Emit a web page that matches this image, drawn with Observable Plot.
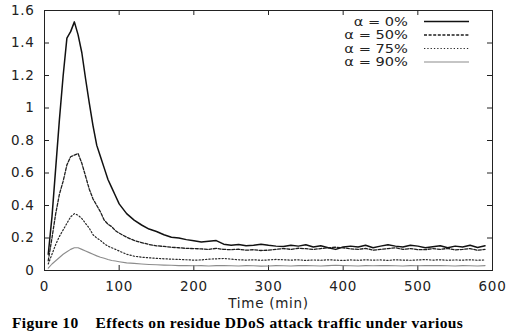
<!DOCTYPE html>
<html>
<head>
<meta charset="utf-8">
<script src="https://cdn.jsdelivr.net/npm/d3@7"></script>
<script src="https://cdn.jsdelivr.net/npm/@observablehq/plot@0.6"></script>
<style>
  html, body { margin: 0; padding: 0; background: #fff; width: 506px; height: 331px; overflow: hidden; }
  #wrap { position: relative; width: 506px; height: 331px; }
  #caption { position: absolute; left: 12px; top: 314px; font: bold 15.5px "Liberation Serif", serif; letter-spacing: 0.4px; line-height: 18px; white-space: nowrap; color: #000; }
  #chart svg text { letter-spacing: 0.7px; }
</style>
</head>
<body>
<div id="wrap">
  <div id="chart"></div>
  <div id="caption">Figure 10<span style="margin-left:17px">Effects on residue DDoS attack traffic under various</span></div>
</div>
<script>
const times = [5,10,15,20,25,30,35,40,45,50,55,60,65,70,75,80,85,90,95,100,
  110,120,130,140,150,160,170,180,190,200,210,220,230,240,250,260,270,280,290,300,
  310,320,330,340,350,360,370,380,390,400,410,420,430,440,450,460,470,480,490,500,
  510,520,530,540,550,560,570,580,590];

const alpha0 = [.10,.33,.63,.93,1.20,1.43,1.47,1.53,1.45,1.34,1.18,1.03,.89,.77,.70,.63,.56,.51,.46,.41,
  .35,.31,.28,.255,.24,.22,.205,.20,.19,.183,.175,.18,.184,.162,.155,.16,.152,.155,.162,.155,
  .15,.148,.156,.15,.158,.145,.152,.14,.13,.145,.15,.145,.155,.14,.15,.158,.15,.144,.155,.15,
  .14,.146,.152,.14,.15,.145,.155,.142,.152];

const alpha50 = [.06,.20,.35,.47,.55,.65,.70,.71,.72,.66,.58,.50,.44,.40,.36,.31,.285,.27,.245,.23,
  .205,.185,.172,.16,.152,.148,.143,.14,.136,.135,.133,.13,.136,.13,.128,.131,.125,.128,.123,.125,
  .13,.135,.13,.137,.134,.13,.135,.14,.143,.14,.133,.13,.136,.125,.13,.135,.14,.13,.135,.128,
  .128,.135,.13,.136,.127,.13,.135,.125,.13];

const alpha75 = [.04,.10,.16,.21,.25,.29,.33,.35,.34,.32,.29,.26,.22,.20,.185,.165,.15,.14,.13,.12,
  .10,.088,.082,.078,.075,.072,.07,.068,.066,.064,.065,.07,.072,.074,.07,.066,.064,.066,.063,.065,
  .068,.066,.064,.066,.062,.065,.063,.066,.064,.062,.065,.063,.066,.064,.065,.062,.066,.064,.063,.065,
  .067,.064,.066,.063,.065,.064,.066,.063,.065];

const alpha90 = [.015,.04,.06,.08,.10,.115,.13,.14,.14,.13,.12,.11,.10,.09,.082,.075,.068,.062,.058,.054,
  .047,.044,.04,.037,.035,.033,.032,.03,.031,.029,.03,.028,.03,.031,.029,.028,.03,.029,.027,.028,
  .03,.029,.028,.03,.031,.029,.028,.03,.032,.03,.029,.028,.03,.029,.031,.03,.029,.028,.03,.029,
  .03,.031,.03,.029,.028,.03,.029,.028,.03];

const seriesNames = ["α = 0%", "α = 50%", "α = 75%", "α = 90%"];
const seriesValues = [alpha0, alpha50, alpha75, alpha90];
const xTicks = [0, 100, 200, 300, 400, 500, 600];
const yTicks = [0, 0.2, 0.4, 0.6, 0.8, 1, 1.2, 1.4, 1.6];
const xLabel = "Time (min)";

const styles = [
  {stroke: "#111", strokeWidth: 1.5, dash: null},
  {stroke: "#1e1e1e", strokeWidth: 1.3, dash: "3,1.6"},
  {stroke: "#2a2a2a", strokeWidth: 1.2, dash: "1.3,2"},
  {stroke: "#8c8c8c", strokeWidth: 1.1, dash: null}
];

const W = 506, H = 312, ML = 44, MR = 14, MT = 10, MB = 42;
const frameW = W - ML - MR, frameH = H - MT - MB, TICK = 5;

const rows = [];
seriesNames.forEach((name, i) => {
  times.forEach((t, j) => rows.push({series: name, t, v: seriesValues[i][j]}));
});

const lineMarks = seriesNames.map((name, i) => Plot.line(rows.filter(d => d.series === name), {
  x: "t", y: "v", stroke: styles[i].stroke, strokeWidth: styles[i].strokeWidth,
  strokeDasharray: styles[i].dash, strokeLinejoin: "round"
}));

const fmt = d => String(d);

const plot = Plot.plot({
  width: W,
  height: H,
  marginLeft: ML,
  marginRight: MR,
  marginTop: MT,
  marginBottom: MB,
  style: {fontFamily: "DejaVu Sans", fontSize: "13.5px", color: "#222", background: "#fff"},
  x: {domain: [0, 600]},
  y: {domain: [0, 1.6]},
  marks: [
    // inward ticks on all four sides (gnuplot style)
    Plot.tickX(xTicks, {x: d => d, insetTop: frameH - TICK, stroke: "#222"}),
    Plot.tickX(xTicks, {x: d => d, insetBottom: frameH - TICK, stroke: "#222"}),
    Plot.tickY(yTicks, {y: d => d, insetRight: frameW - TICK, stroke: "#222"}),
    Plot.tickY(yTicks, {y: d => d, insetLeft: frameW - TICK, stroke: "#222"}),
    Plot.frame({stroke: "#222", strokeWidth: 1}),
    Plot.axisX(xTicks, {anchor: "bottom", tickSize: 0, tickPadding: 11, tickFormat: fmt, label: null, fill: "#222"}),
    Plot.axisY(yTicks, {anchor: "left", tickSize: 0, tickPadding: 10, tickFormat: fmt, label: null, fill: "#222"}),
    Plot.text([xLabel], {text: d => d, frameAnchor: "bottom", lineAnchor: "middle", dy: 33, fill: "#222", fontSize: 13.5}),
    ...lineMarks
  ]
});

document.getElementById("chart").appendChild(plot);

// legend (inside top-right of frame), horizontally stretched like the reference
const svg = d3.select(plot);
const lg = svg.append("g").attr("font-family", "DejaVu Sans").attr("font-size", "11.5px");
const rowY = [21.5, 35, 48.5, 62];
seriesNames.forEach((name, i) => {
  const t = lg.append("text").attr("x", 408).attr("y", rowY[i]).attr("dy", "0.35em")
    .attr("text-anchor", "end").attr("fill", "#222").style("letter-spacing", "0px").text(name);
  const natural = t.node().getComputedTextLength();
  t.attr("textLength", natural * 1.27).attr("lengthAdjust", "spacingAndGlyphs");
  lg.append("line").attr("x1", 424).attr("x2", 469).attr("y1", rowY[i]).attr("y2", rowY[i])
    .attr("stroke", styles[i].stroke).attr("stroke-width", styles[i].strokeWidth)
    .attr("stroke-dasharray", styles[i].dash);
});
</script>
</body>
</html>
